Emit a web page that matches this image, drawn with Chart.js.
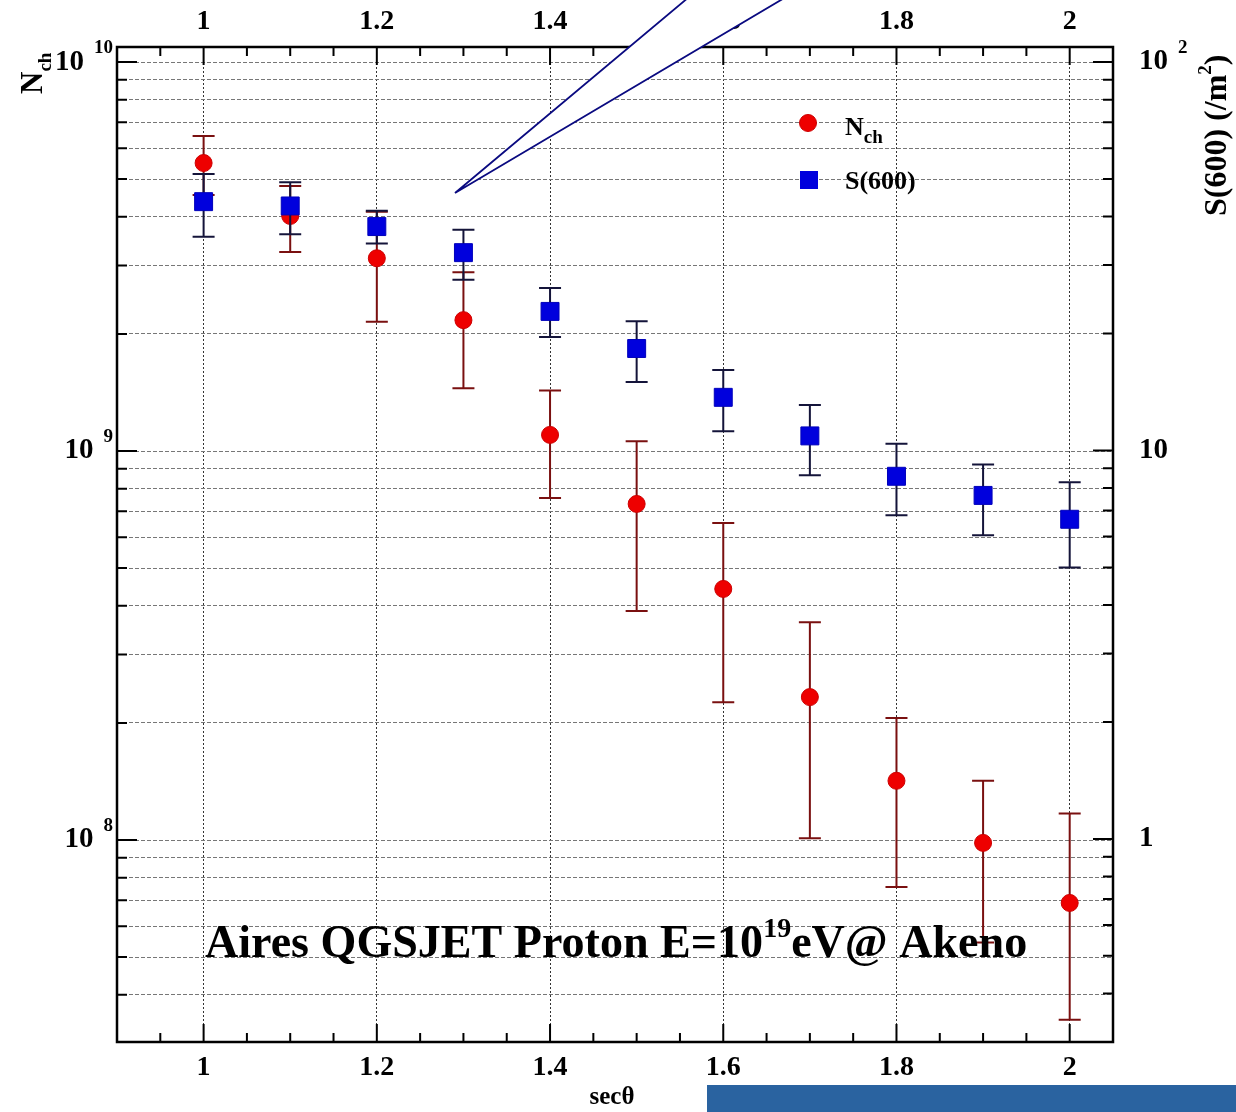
<!DOCTYPE html>
<html>
<head>
<meta charset="utf-8">
<script src="https://cdn.jsdelivr.net/npm/chart.js@4.4.1/dist/chart.umd.min.js"></script>
<style>
html, body { margin: 0; padding: 0; background: #fff; }
#wrap { position: relative; width: 1236px; height: 1112px; overflow: hidden; }
#strip { position: absolute; left: 707px; top: 1085px; width: 529px; height: 27px; background: #2a63a0; }
</style>
</head>
<body>
<div id="wrap">
  <canvas id="chart" width="1236" height="1112"></canvas>
  <div id="strip"></div>
</div>
<script>
// sec(theta) bins
const secTheta = [1.0, 1.1, 1.2, 1.3, 1.4, 1.5, 1.6, 1.7, 1.8, 1.9, 2.0];

// N_ch (left axis) with error bar ends
const nch   = [5.50e9, 4.02e9, 3.13e9, 2.17e9, 1.10e9, 7.31e8, 4.42e8, 2.33e8, 1.42e8, 9.83e7, 6.89e7];
const nchHi = [6.45e9, 4.80e9, 4.12e9, 2.88e9, 1.43e9, 1.06e9, 6.53e8, 3.63e8, 2.06e8, 1.42e8, 1.17e8];
const nchLo = [4.55e9, 3.25e9, 2.15e9, 1.45e9, 7.57e8, 3.88e8, 2.26e8, 1.01e8, 7.57e7, 5.45e7, 3.45e7];

// S(600) in /m^2 (right axis) with error bar ends
const s600   = [43.7, 42.6, 37.7, 32.3, 22.8, 18.3, 13.7, 10.9, 8.58, 7.66, 6.65];
const s600Hi = [51.5, 49.0, 41.4, 37.0, 26.2, 21.5, 16.1, 13.1, 10.4, 9.20, 8.28];
const s600Lo = [35.5, 36.0, 34.1, 27.5, 19.6, 15.0, 11.2, 8.63, 6.81, 6.05, 5.00];

// tick labels
const xTicks = [1, 1.2, 1.4, 1.6, 1.8, 2];
const xTickLabels = ['1', '1.2', '1.4', '1.6', '1.8', '2'];
const leftDecades = [1e8, 1e9, 1e10];
const leftExp = ['8', '9', '10'];
const rightDecades = [1, 10, 100];
const rightBase = ['1', '10', '10'];
const rightExp = ['', '', '2'];

const FONT = '"Liberation Serif", "DejaVu Serif", serif';

// all log ticks 1..9 x 10^n
function logTicks(min, max) {
    const out = [];
    for (let e = Math.floor(Math.log10(min)); e <= Math.ceil(Math.log10(max)); e++) {
        for (let m = 1; m <= 9; m++) {
            const v = m * Math.pow(10, e);
            if (v >= min && v <= max) out.push({ value: v });
        }
    }
    return out;
}

// error bars under each dataset's markers
const errorBars = {
    id: 'errorBars',
    beforeDatasetDraw(chart, args) {
        const ds = chart.data.datasets[args.index];
        const meta = args.meta;
        const ys = chart.scales[meta.yAxisID];
        const ctx = chart.ctx;
        ctx.save();
        ctx.strokeStyle = ds.errColor;
        ctx.lineWidth = 2;
        meta.data.forEach((pt, i) => {
            const yh = ys.getPixelForValue(ds.errHi[i]);
            const yl = ys.getPixelForValue(ds.errLo[i]);
            ctx.beginPath();
            ctx.moveTo(pt.x, yh); ctx.lineTo(pt.x, yl);
            ctx.moveTo(pt.x - 11, yh); ctx.lineTo(pt.x + 11, yh);
            ctx.moveTo(pt.x - 11, yl); ctx.lineTo(pt.x + 11, yl);
            ctx.stroke();
        });
        ctx.restore();
    }
};

function supText(ctx, base, exp, x, y, baseSize, expSize, align) {
    ctx.font = 'bold ' + baseSize + 'px ' + FONT;
    const wb = ctx.measureText(base).width;
    ctx.font = 'bold ' + expSize + 'px ' + FONT;
    const we = exp ? ctx.measureText(exp).width : 0;
    const gap = exp ? 10 : 0;
    let x0 = align === 'right' ? x - wb - gap - we : x;
    ctx.textAlign = 'left';
    ctx.textBaseline = 'middle';
    ctx.font = 'bold ' + baseSize + 'px ' + FONT;
    ctx.fillText(base, x0, y);
    if (exp) {
        ctx.font = 'bold ' + expSize + 'px ' + FONT;
        ctx.textBaseline = 'alphabetic';
        ctx.fillText(exp, x0 + wb + gap, y - 9);
    }
}

// frame, ticks, labels, legend, annotation
const decorations = {
    id: 'decorations',
    afterDraw(chart) {
        const ctx = chart.ctx;
        const a = chart.chartArea;
        const xs = chart.scales.x, yl = chart.scales.y, yr = chart.scales.y2;
        ctx.save();
        ctx.fillStyle = '#000';
        ctx.strokeStyle = '#000';

        // ticks
        ctx.lineWidth = 2;
        ctx.beginPath();
        for (let k = 19; k <= 41; k++) {
            const v = k * 0.05;
            const px = xs.getPixelForValue(v);
            const major = xTicks.some(t => Math.abs(t - v) < 1e-6);
            const len = major ? 18 : 9;
            ctx.moveTo(px, a.bottom); ctx.lineTo(px, a.bottom - len);
            ctx.moveTo(px, a.top); ctx.lineTo(px, a.top + len);
        }
        logTicks(yl.min, yl.max).forEach(t => {
            const py = yl.getPixelForValue(t.value);
            const major = Math.abs(Math.log10(t.value) - Math.round(Math.log10(t.value))) < 1e-9;
            const len = major ? 20 : 10;
            ctx.moveTo(a.left, py); ctx.lineTo(a.left + len, py);
        });
        logTicks(yr.min, yr.max).forEach(t => {
            const py = yr.getPixelForValue(t.value);
            const major = Math.abs(Math.log10(t.value) - Math.round(Math.log10(t.value))) < 1e-9;
            const len = major ? 20 : 10;
            ctx.moveTo(a.right, py); ctx.lineTo(a.right - len, py);
        });
        ctx.stroke();

        // frame
        ctx.lineWidth = 2.5;
        ctx.strokeRect(a.left, a.top, a.right - a.left, a.bottom - a.top);

        // x labels bottom and top
        ctx.font = 'bold 28px ' + FONT;
        ctx.textAlign = 'center';
        ctx.textBaseline = 'middle';
        xTicks.forEach((v, i) => {
            const px = xs.getPixelForValue(v);
            ctx.fillText(xTickLabels[i], px, 1068);
            ctx.fillText(xTickLabels[i], px, 22);
        });

        // left labels
        leftDecades.forEach((v, i) => {
            supText(ctx, '10', leftExp[i], 113, yl.getPixelForValue(v), 29, 19, 'right');
        });
        // right labels
        rightDecades.forEach((v, i) => {
            supText(ctx, rightBase[i], rightExp[i], 1139, yr.getPixelForValue(v), 29, 19, 'left');
        });

        // x title
        ctx.font = 'bold 25px ' + FONT;
        ctx.textAlign = 'center';
        ctx.textBaseline = 'middle';
        ctx.fillText('sec\u03b8', 612, 1098);

        // left title N_ch, rotated
        ctx.save();
        ctx.translate(42, 94);
        ctx.rotate(-Math.PI / 2);
        ctx.textAlign = 'left';
        ctx.textBaseline = 'alphabetic';
        ctx.font = 'bold 31px ' + FONT;
        ctx.fillText('N', 0, 0);
        const wn = ctx.measureText('N').width;
        ctx.font = 'bold 19px ' + FONT;
        ctx.fillText('ch', wn, 9);
        ctx.restore();

        // right title S(600) (/m^2), rotated
        ctx.save();
        ctx.translate(1226, 216);
        ctx.rotate(-Math.PI / 2);
        ctx.textAlign = 'left';
        ctx.textBaseline = 'alphabetic';
        ctx.font = 'bold 32px ' + FONT;
        const t1 = 'S(600) (/m';
        ctx.fillText(t1, 0, 0);
        let w = ctx.measureText(t1).width;
        ctx.font = 'bold 19px ' + FONT;
        ctx.fillText('2', w, -15);
        w += ctx.measureText('2').width;
        ctx.font = 'bold 32px ' + FONT;
        ctx.fillText(')', w, 0);
        ctx.restore();

        // legend
        ctx.fillStyle = '#ee0000';
        ctx.strokeStyle = '#cc0000';
        ctx.lineWidth = 1;
        ctx.beginPath();
        ctx.arc(808, 123, 8.5, 0, Math.PI * 2);
        ctx.fill(); ctx.stroke();
        ctx.fillStyle = '#0000dd';
        ctx.fillRect(800, 171, 18, 18);
        ctx.fillStyle = '#000';
        ctx.textAlign = 'left';
        ctx.textBaseline = 'alphabetic';
        ctx.font = 'bold 26px ' + FONT;
        ctx.fillText('N', 845, 135);
        const wN = ctx.measureText('N').width;
        ctx.font = 'bold 19px ' + FONT;
        ctx.fillText('ch', 845 + wN, 143);
        ctx.font = 'bold 26px ' + FONT;
        ctx.fillText('S(600)', 845, 189);

        // annotation text, fitted to its span
        const partA = 'Aires QGSJET Proton E=10', partB = '19', partC = 'eV@ Akeno';
        let fs = 40;
        const measure = () => {
            ctx.font = 'bold ' + fs + 'px ' + FONT;
            const wa = ctx.measureText(partA).width;
            const wc = ctx.measureText(partC).width;
            ctx.font = 'bold ' + Math.round(fs * 0.6) + 'px ' + FONT;
            const wb = ctx.measureText(partB).width;
            return wa + wb + wc;
        };
        fs = fs * 822 / measure();
        ctx.font = 'bold ' + fs + 'px ' + FONT;
        let tx = 205;
        ctx.fillText(partA, tx, 957);
        tx += ctx.measureText(partA).width;
        ctx.font = 'bold ' + Math.round(fs * 0.6) + 'px ' + FONT;
        ctx.fillText(partB, tx, 937);
        tx += ctx.measureText(partB).width;
        ctx.font = 'bold ' + fs + 'px ' + FONT;
        ctx.fillText(partC, tx, 957);

        // callout wedge at the top
        ctx.beginPath();
        ctx.moveTo(455, 193);
        ctx.lineTo(689, -3);
        ctx.lineTo(786, -3);
        ctx.closePath();
        ctx.fillStyle = '#fff';
        ctx.fill();
        ctx.beginPath();
        ctx.moveTo(689, -3); ctx.lineTo(455, 193); ctx.lineTo(786, -3);
        ctx.strokeStyle = '#0a0a80';
        ctx.lineWidth = 1.8;
        ctx.stroke();

        ctx.restore();
    }
};

new Chart(document.getElementById('chart'), {
    type: 'scatter',
    data: {
        datasets: [
            {
                label: 'S(600)',
                data: secTheta.map((x, i) => ({ x: x, y: s600[i] })),
                yAxisID: 'y2',
                pointStyle: 'rect',
                pointRadius: 12.7,
                backgroundColor: '#0000dd',
                borderColor: '#0000bb',
                borderWidth: 1,
                errHi: s600Hi,
                errLo: s600Lo,
                errColor: '#14143a'
            },
            {
                label: 'Nch',
                data: secTheta.map((x, i) => ({ x: x, y: nch[i] })),
                yAxisID: 'y',
                pointStyle: 'circle',
                pointRadius: 8.5,
                backgroundColor: '#ee0000',
                borderColor: '#cc0000',
                borderWidth: 1,
                errHi: nchHi,
                errLo: nchLo,
                errColor: '#7a1010'
            }
        ]
    },
    options: {
        responsive: false,
        animation: false,
        devicePixelRatio: 1,
        layout: { padding: { left: 117, right: 123, top: 47, bottom: 70 } },
        plugins: { legend: { display: false }, tooltip: { enabled: false } },
        scales: {
            x: {
                type: 'linear',
                min: 0.9,
                max: 2.05,
                afterBuildTicks: s => { s.ticks = xTicks.map(v => ({ value: v })); },
                afterFit: s => { s.height = 0; },
                ticks: { display: false },
                grid: { color: '#333', lineWidth: 1, drawTicks: false },
                border: { display: false, dash: [2, 2] }
            },
            y: {
                type: 'logarithmic',
                position: 'left',
                min: 3.025e7,
                max: 1.093e10,
                afterBuildTicks: s => { s.ticks = logTicks(s.min, s.max); },
                afterFit: s => { s.width = 0; },
                ticks: { display: false },
                grid: { color: '#777', lineWidth: 1, drawTicks: false },
                border: { display: false, dash: [4, 2] }
            },
            y2: {
                type: 'logarithmic',
                position: 'right',
                min: 0.3025,
                max: 109.3,
                afterFit: s => { s.width = 0; },
                ticks: { display: false },
                grid: { display: false, drawTicks: false },
                border: { display: false }
            }
        }
    },
    plugins: [errorBars, decorations]
});
</script>
</body>
</html>
